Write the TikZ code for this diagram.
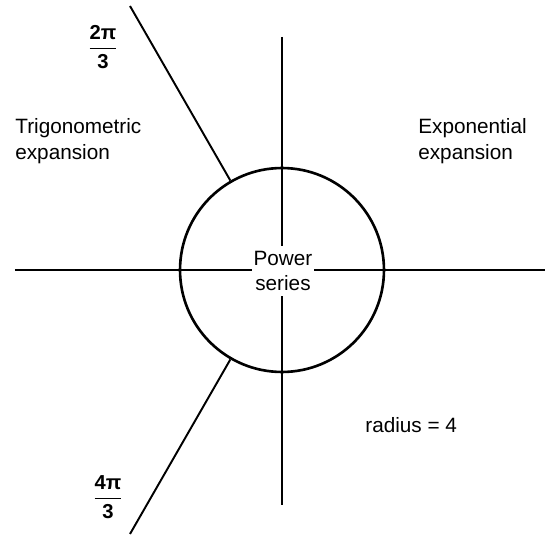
\documentclass[tikz,border=0pt]{standalone}
\usepackage{amsmath}
\usepackage{fontspec}
\setmainfont{Liberation Sans}
\usetikzlibrary{positioning}

\begin{document}
\begin{tikzpicture}[
        x=0.02cm, y=-0.02cm,
        axis/.style={line width=1.1pt},
        region/.style={align=left, anchor=west, inner sep=0pt, font=\fontsize{11.8}{14.5}\selectfont},
        angle/.style={inner sep=0pt, font=\fontsize{11.5}{12}\selectfont\bfseries}
    ]
        \useasboundingbox (0,0) rectangle (549,537);
        \coordinate (origin) at (282,270);
        \coordinate (west) at (15,270);
        \coordinate (east) at (545,270);
        \coordinate (north) at (282,37);
        \coordinate (south) at (282,505);
        \coordinate (upper) at (130,6);
        \coordinate (lower) at (130,534);

        \node[draw, circle, line width=1.5pt, minimum size=4.08cm, inner sep=0pt] (disk) at (origin) {};

        \draw[axis] (west) -- (east);
        \draw[axis] (north) -- (south);
        \draw[axis] (disk.120) -- (upper);
        \draw[axis] (disk.240) -- (lower);

        \node[fill=white, align=center, inner xsep=1pt, inner ysep=0.1cm, font=\fontsize{11.8}{14.5}\selectfont] (power) at (283,271) {Power\\series};

        \node[region] (trig) at (15,141) {Trigonometric\\expansion};
        \node[region] (expo) at (418,141) {Exponential\\expansion};
        \node[region] (radius) at (365,425) {radius = 4};

        \node[angle] (twothirds) at (103,47) {$\dfrac{\text{2π}}{\text{3}}$};
        \node[angle] (fourthirds) at (108,497) {$\dfrac{\text{4π}}{\text{3}}$};
    \end{tikzpicture}
\end{document}
